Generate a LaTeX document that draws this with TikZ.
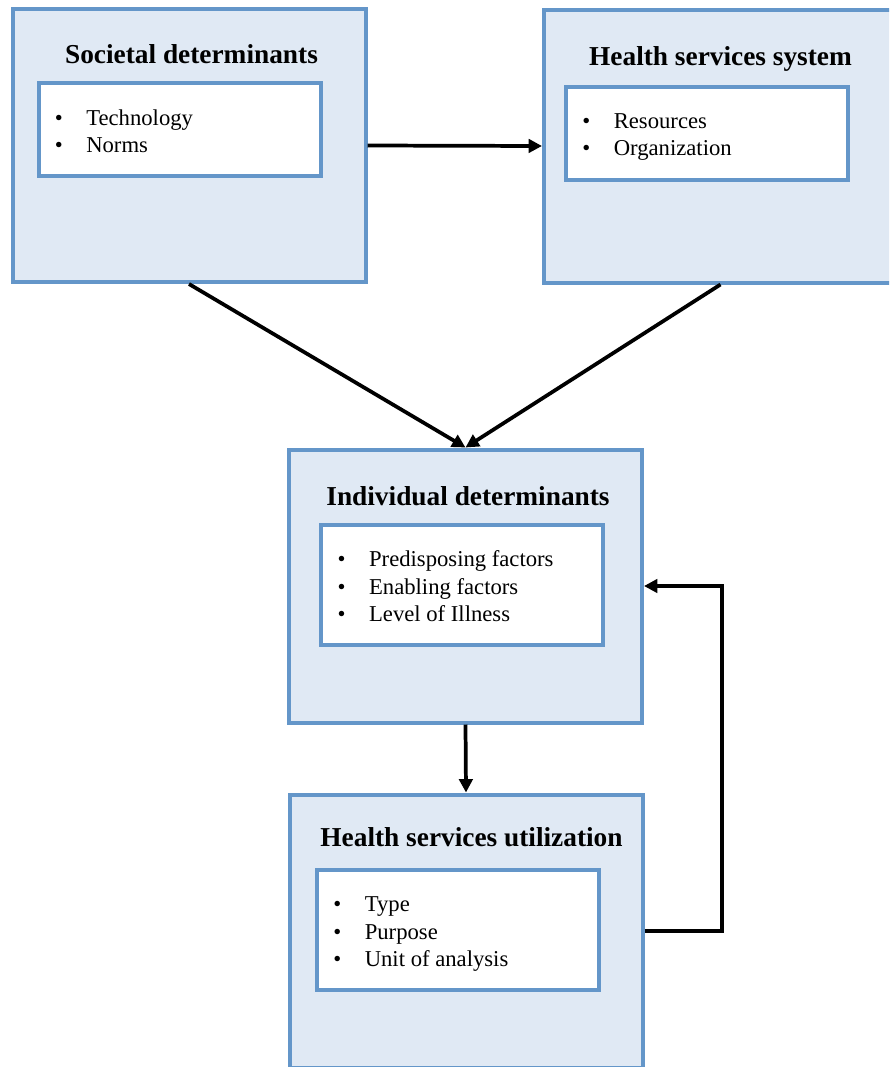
\documentclass[tikz,border=0pt]{standalone}
\usepackage{fontspec}
\setmainfont{Liberation Serif}
\usetikzlibrary{arrows.meta}
\definecolor{boxline}{RGB}{100,150,201}
\definecolor{boxfill}{RGB}{224,233,244}
\begin{document}
\begin{tikzpicture}[x=0.75pt, y=-0.75pt,
    outerbox/.style={draw=boxline, fill=boxfill, line width=3pt, inner sep=0pt,
        minimum width=353*0.75pt, minimum height=273*0.75pt},
    innerbox/.style={draw=boxline, fill=white, line width=3pt, inner sep=0pt,
        minimum width=282*0.75pt},
    title/.style={anchor=base, inner sep=0pt, font=\fontsize{20.5}{24}\selectfont\bfseries},
    items/.style={anchor=base west, inner sep=0pt, font=\fontsize{17}{20.6}\selectfont},
    link/.style={line width=2.8pt, -{Triangle[length=10pt,width=10pt]}}]
    \useasboundingbox (0,0) rectangle (889,1067);
    \clip (0,0) rectangle (889,1067);

    % Define the outer boxes
    \node[outerbox] (soc) at (189,145.5) {};
    \node[outerbox] (hss) at (720.5,146) {};
    \node[outerbox] (ind) at (465.5,586) {};
    \node[outerbox] (util) at (466,931) {};

    % Inner boxes
    \node[innerbox, minimum height=93*0.75pt] (socin) at (179.5,129.5) {};
    \node[innerbox, minimum height=93*0.75pt] (hssin) at (707,133.5) {};
    \node[innerbox, minimum height=120.5*0.75pt] (indin) at (462,584.75) {};
    \node[innerbox, minimum height=120.5*0.75pt] (utilin) at (458,929.75) {};

    % Titles
    \node[title] (soct) at (191.5,63) {Societal determinants};
    \node[title] (hsst) at (720.5,65) {Health services system};
    \node[title] (indt) at (468,505) {Individual determinants};
    \node[title] (utilt) at (471.5,846) {Health services utilization};

    % Bullet lists
    \node[items] (socl) at (54.5,125) {\begin{tabular}[t]{@{}l@{\hspace{17.7pt}}l@{}}
        • & Technology\\ • & Norms\end{tabular}};
    \node[items] (hssl) at (582,128.3) {\begin{tabular}[t]{@{}l@{\hspace{17.7pt}}l@{}}
        • & Resources\\ • & Organization\end{tabular}};
    \node[items] (indl) at (337.3,566.7) {\begin{tabular}[t]{@{}l@{\hspace{17.7pt}}l@{}}
        • & Predisposing factors\\ • & Enabling factors\\ • & Level of Illness\end{tabular}};
    \node[items] (utill) at (333,911.7) {\begin{tabular}[t]{@{}l@{\hspace{17.7pt}}l@{}}
        • & Type\\ • & Purpose\\ • & Unit of analysis\end{tabular}};

    % Arrows
    \draw[link] (soc.east) -- (hss.west);
    \draw[link] (soc.south) -- (ind.north);
    \draw[link] (hss.south) -- (ind.north);
    \draw[link] (ind.south) -- (util.north);

    % Feedback loop
    \coordinate (turn) at (722,931);
    \draw[link] (util.east) -- (turn) |- (ind.east);
\end{tikzpicture}
\end{document}
